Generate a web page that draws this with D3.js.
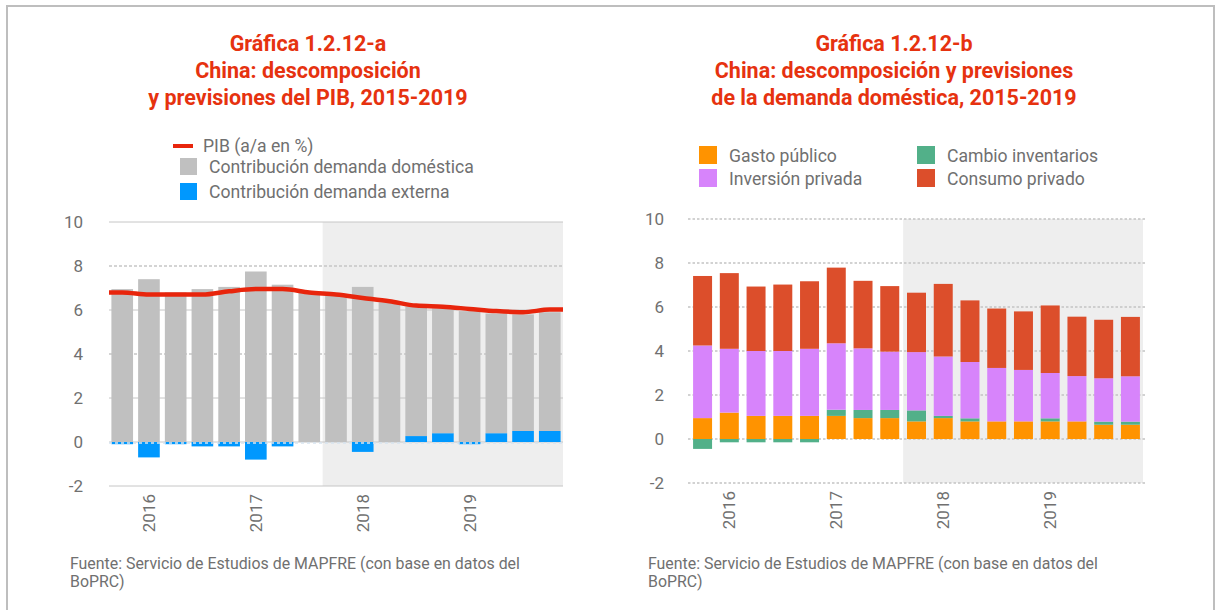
<!DOCTYPE html>
<html>
<head>
<meta charset="utf-8">
<script src="https://cdn.jsdelivr.net/npm/d3@7"></script>
<style>
  body { margin: 0; background: #fff; }
  svg { display: block; }
  text { font-family: Roboto, "Noto Sans", sans-serif; }
</style>
</head>
<body>
<svg id="chart" width="1222" height="610"></svg>
<script>
// Quarterly periods, 4T15 .. 4T19
const quarters = ["4T15","1T16","2T16","3T16","4T16","1T17","2T17","3T17","4T17",
                  "1T18","2T18","3T18","4T18","1T19","2T19","3T19","4T19"];
const yearTickQuarters = ["1T16","1T17","1T18","1T19"];
const yearTickLabels = ["2016","2017","2018","2019"];
const forecastFrom = "4T17";
const yTicks = [-2, 0, 2, 4, 6, 8, 10];

// Gráfica a: PIB y contribuciones (pp)
const pib              = [6.8, 6.7, 6.7, 6.7, 6.85, 6.95, 6.95, 6.8, 6.7, 6.55, 6.4, 6.2, 6.15, 6.05, 5.95, 5.9, 6.02];
const demandaDomestica = [6.95, 7.4, 6.8, 6.95, 7.05, 7.75, 7.15, 6.8, 6.7, 7.05, 6.35, 5.9, 5.67, 5.95, 5.44, 5.3, 5.4];
const demandaExterna   = [-0.1, -0.7, -0.1, -0.2, -0.2, -0.8, -0.2, 0, 0, -0.45, 0, 0.27, 0.4, -0.1, 0.4, 0.5, 0.5];

// Gráfica b: componentes de la demanda doméstica (pp)
const gastoPublico      = [0.95, 1.2, 1.05, 1.05, 1.05, 1.05, 0.95, 0.95, 0.8, 0.95, 0.8, 0.8, 0.8, 0.8, 0.8, 0.65, 0.65];
const cambioInventarios = [-0.45, -0.15, -0.15, -0.15, -0.15, 0.28, 0.37, 0.37, 0.5, 0.1, 0.14, 0, 0, 0.14, 0, 0.14, 0.14];
const inversionPrivada  = [3.3, 2.9, 2.95, 2.95, 3.05, 3.02, 2.8, 2.65, 2.65, 2.7, 2.56, 2.43, 2.34, 2.06, 2.06, 1.97, 2.06];
const consumoPrivado    = [3.16, 3.44, 2.93, 3.02, 3.07, 3.44, 3.07, 2.98, 2.7, 3.3, 2.8, 2.7, 2.66, 3.07, 2.7, 2.66, 2.7];

const svg = d3.select("#chart");
const TXT = "#707070";
const TITLE = "#e6320f";

// outer frame
svg.append("rect").attr("x", 7).attr("y", 6).attr("width", 1207).attr("height", 700)
  .attr("fill", "none").attr("stroke", "#bebebe").attr("stroke-width", 2);

function titles(cx, lines) {
  const t = svg.append("text").attr("text-anchor", "middle").attr("fill", TITLE)
    .attr("font-size", 21.5).attr("font-weight", 700);
  lines.forEach((l, i) => t.append("tspan").attr("x", cx).attr("y", 51 + i * 27).text(l));
}
function source(x) {
  const t = svg.append("text").attr("fill", TXT).attr("font-size", 15.9);
  t.append("tspan").attr("x", x).attr("y", 569).text("Fuente: Servicio de Estudios de MAPFRE (con base en datos del");
  t.append("tspan").attr("x", x).attr("y", 587).text("BoPRC)");
}
const fmt = d => (d < 0 ? "-" + Math.abs(d) : String(d));

function axes(g, x, y, labelRight) {
  const ya = g.append("g").attr("transform", `translate(${labelRight},0)`)
    .call(d3.axisLeft(y).tickValues(yTicks).tickFormat(fmt).tickSize(0).tickPadding(0));
  ya.select(".domain").remove();
  ya.selectAll("text").attr("fill", TXT).attr("font-size", 17).attr("font-family", "Roboto");

  const xa = g.append("g").attr("transform", `translate(0,${y(-2)})`)
    .call(d3.axisBottom(x).tickValues(yearTickQuarters)
      .tickFormat(q => yearTickLabels[yearTickQuarters.indexOf(q)]).tickSize(0));
  xa.select(".domain").remove();
  xa.selectAll("text").attr("fill", TXT).attr("font-size", 17).attr("font-family", "Roboto")
    .attr("transform", "rotate(-90)").attr("text-anchor", "end")
    .attr("x", -8).attr("y", 0).attr("dy", "0.36em");
}

// ---------- Gráfica a ----------
{
  const L = 109, R = 563;
  const x = d3.scaleBand().domain(quarters).range([L, R]).paddingInner(0.19).paddingOuter(0.09);
  const y = d3.scaleLinear().domain([-2, 10]).range([486, 222]);
  const g = svg.append("g");

  titles(308, ["Gráfica 1.2.12-a", "China: descomposición", "y previsiones del PIB, 2015-2019"]);

  const sx = x(forecastFrom) - x.step() * x.paddingInner() / 2;
  g.append("rect").attr("x", sx).attr("y", y(10)).attr("width", R - sx).attr("height", y(-2) - y(10))
    .attr("fill", "#eeeeee");

  g.selectAll(".grid").data(yTicks).join("line")
    .attr("x1", L).attr("x2", R).attr("y1", d => y(d)).attr("y2", d => y(d))
    .attr("stroke", "#c6c6c6")
    .attr("stroke-width", d => (d === 8 || d === 4) ? 1.5 : 1)
    .attr("stroke-dasharray", d => (d === 8 || d === 4) ? "3,2" : null);

  const rows = quarters.map((q, i) => ({ q, ext: demandaExterna[i], dom: demandaDomestica[i] }));
  const series = d3.stack().keys(["ext", "dom"]).offset(d3.stackOffsetDiverging)(rows);
  const col = { ext: "#0098fe", dom: "#c0c0c0" };
  series.forEach(s => {
    g.append("g").selectAll("rect").data(s).join("rect")
      .attr("x", d => x(d.data.q)).attr("width", x.bandwidth())
      .attr("y", d => y(Math.max(d[0], d[1])))
      .attr("height", d => Math.abs(y(d[0]) - y(d[1])))
      .attr("fill", col[s.key]);
  });

  // dotted zero line over the bars
  g.append("line").attr("x1", L).attr("x2", R).attr("y1", y(0) + 1).attr("y2", y(0) + 1)
    .attr("stroke", "#d6e4f0").attr("stroke-width", 1.5).attr("stroke-dasharray", "3,3");

  const pts = [[L, pib[0]]].concat(quarters.map((q, i) => [x(q) + x.bandwidth() / 2, pib[i]]), [[R, pib[pib.length - 1]]]);
  g.append("path").datum(pts)
    .attr("d", d3.line().x(d => d[0]).y(d => y(d[1])).curve(d3.curveMonotoneX))
    .attr("fill", "none").attr("stroke", "#e8250c").attr("stroke-width", 4.5);

  axes(g, x, y, 83);

  // legend
  const lg = svg.append("g").attr("font-size", 17.6).attr("fill", TXT);
  lg.append("line").attr("x1", 173).attr("x2", 193).attr("y1", 146).attr("y2", 146)
    .attr("stroke", "#e8250c").attr("stroke-width", 4);
  lg.append("text").attr("x", 203).attr("y", 146).attr("dy", "0.35em").text("PIB (a/a en %)");
  [["Contribución demanda doméstica", col.dom, 158], ["Contribución demanda externa", col.ext, 183]]
    .forEach(([t, c, yy]) => {
      lg.append("rect").attr("x", 180).attr("y", yy).attr("width", 17).attr("height", 17).attr("fill", c);
      lg.append("text").attr("x", 209).attr("y", yy + 9).attr("dy", "0.35em").text(t);
    });

  source(70);
}

// ---------- Gráfica b ----------
{
  const L = 688, R = 1145;
  const x = d3.scaleBand().domain(quarters).range([L, R]).paddingInner(0.29).paddingOuter(0.19);
  const y = d3.scaleLinear().domain([-2, 10]).range([483, 219]);
  const g = svg.append("g");

  titles(894, ["Gráfica 1.2.12-b", "China: descomposición y previsiones", "de la demanda doméstica, 2015-2019"]);

  const sx = x(forecastFrom) - x.step() * x.paddingInner() / 2;
  g.append("rect").attr("x", sx).attr("y", y(10)).attr("width", R - 2 - sx).attr("height", y(-2) - y(10))
    .attr("fill", "#eeeeee");

  g.selectAll(".grid").data(yTicks).join("line")
    .attr("x1", L).attr("x2", R).attr("y1", d => y(d)).attr("y2", d => y(d))
    .attr("stroke", "#c4c4c4").attr("stroke-width", 1.6).attr("stroke-dasharray", "2.5,2");

  const keys = ["gasto", "invent", "inver", "consumo"];
  const col = { gasto: "#ff9300", invent: "#52b089", inver: "#d784fb", consumo: "#dc4e2b" };
  const rows = quarters.map((q, i) => ({
    q, gasto: gastoPublico[i], invent: cambioInventarios[i], inver: inversionPrivada[i], consumo: consumoPrivado[i]
  }));
  const series = d3.stack().keys(keys).offset(d3.stackOffsetDiverging)(rows);
  series.forEach(s => {
    g.append("g").selectAll("rect").data(s.filter(d => d[1] !== d[0])).join("rect")
      .attr("x", d => x(d.data.q)).attr("width", x.bandwidth())
      .attr("y", d => y(Math.max(d[0], d[1])))
      .attr("height", d => Math.abs(y(d[0]) - y(d[1])))
      .attr("fill", col[s.key]);
  });

  axes(g, x, y, 664);

  const lg = svg.append("g").attr("font-size", 17.6).attr("fill", TXT);
  [["Gasto público", col.gasto, 699, 146], ["Inversión privada", col.inver, 699, 169],
   ["Cambio inventarios", col.invent, 917, 146], ["Consumo privado", col.consumo, 917, 169]]
    .forEach(([t, c, xx, yy]) => {
      lg.append("rect").attr("x", xx).attr("y", yy).attr("width", 18).attr("height", 18).attr("fill", c);
      lg.append("text").attr("x", xx + 30).attr("y", yy + 10).attr("dy", "0.35em").text(t);
    });

  source(648);
}
</script>
</body>
</html>
